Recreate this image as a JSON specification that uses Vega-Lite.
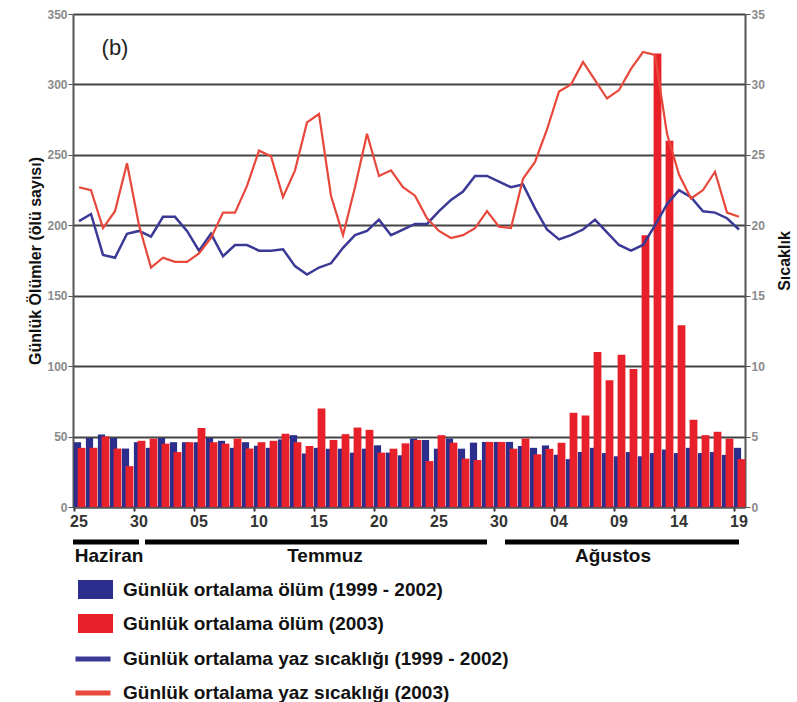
{
  "$schema": "https://vega.github.io/schema/vega-lite/v6.json",
  "background": "white",
  "padding": {"left": 27, "top": 8, "right": 2, "bottom": 0},
  "config": {
    "font": "Liberation Sans",
    "view": {"stroke": null}
  },
  "datasets": {
    "days": [
      {"date": "06-25", "bd": 46, "rd": 42, "bt": 20.3, "rt": 22.7},
      {"date": "06-26", "bd": 49, "rd": 42, "bt": 20.8, "rt": 22.5},
      {"date": "06-27", "bd": 51.5, "rd": 50, "bt": 17.9, "rt": 19.8},
      {"date": "06-28", "bd": 49, "rd": 41.5, "bt": 17.7, "rt": 21.0},
      {"date": "06-29", "bd": 41.5, "rd": 29, "bt": 19.4, "rt": 24.4},
      {"date": "06-30", "bd": 46, "rd": 47, "bt": 19.6, "rt": 20.0},
      {"date": "07-01", "bd": 42, "rd": 48.5, "bt": 19.2, "rt": 17.0},
      {"date": "07-02", "bd": 49, "rd": 45, "bt": 20.6, "rt": 17.7},
      {"date": "07-03", "bd": 46, "rd": 39, "bt": 20.6, "rt": 17.4},
      {"date": "07-04", "bd": 46, "rd": 46, "bt": 19.6, "rt": 17.4},
      {"date": "07-05", "bd": 46, "rd": 56, "bt": 18.2, "rt": 18.0},
      {"date": "07-06", "bd": 49, "rd": 46, "bt": 19.4, "rt": 19.1},
      {"date": "07-07", "bd": 47, "rd": 45, "bt": 17.8, "rt": 20.9},
      {"date": "07-08", "bd": 42, "rd": 48.5, "bt": 18.6, "rt": 20.9},
      {"date": "07-09", "bd": 46, "rd": 41.5, "bt": 18.6, "rt": 22.8},
      {"date": "07-10", "bd": 43.5, "rd": 46, "bt": 18.2, "rt": 25.3},
      {"date": "07-11", "bd": 42, "rd": 47, "bt": 18.2, "rt": 24.9},
      {"date": "07-12", "bd": 48, "rd": 52, "bt": 18.3, "rt": 22.0},
      {"date": "07-13", "bd": 51, "rd": 46, "bt": 17.1, "rt": 23.9},
      {"date": "07-14", "bd": 38, "rd": 43.3, "bt": 16.5, "rt": 27.3},
      {"date": "07-15", "bd": 42, "rd": 70, "bt": 17.0, "rt": 27.9},
      {"date": "07-16", "bd": 41.4, "rd": 47.6, "bt": 17.3, "rt": 22.1},
      {"date": "07-17", "bd": 41.4, "rd": 51.7, "bt": 18.4, "rt": 19.3},
      {"date": "07-18", "bd": 38.6, "rd": 56.4, "bt": 19.3, "rt": 22.7},
      {"date": "07-19", "bd": 41.4, "rd": 54.8, "bt": 19.6, "rt": 26.5},
      {"date": "07-20", "bd": 43.8, "rd": 38.6, "bt": 20.4, "rt": 23.5},
      {"date": "07-21", "bd": 38.6, "rd": 41.4, "bt": 19.3, "rt": 23.9},
      {"date": "07-22", "bd": 36.7, "rd": 45.2, "bt": 19.7, "rt": 22.7},
      {"date": "07-23", "bd": 48.6, "rd": 47.6, "bt": 20.1, "rt": 22.1},
      {"date": "07-24", "bd": 47.6, "rd": 32.6, "bt": 20.1, "rt": 20.5},
      {"date": "07-25", "bd": 41.4, "rd": 51, "bt": 21.0, "rt": 19.6},
      {"date": "07-26", "bd": 48.6, "rd": 45.7, "bt": 21.8, "rt": 19.1},
      {"date": "07-27", "bd": 41.4, "rd": 34.3, "bt": 22.4, "rt": 19.3},
      {"date": "07-28", "bd": 45.7, "rd": 33.3, "bt": 23.5, "rt": 19.8},
      {"date": "07-29", "bd": 46.2, "rd": 46.2, "bt": 23.5, "rt": 21.0},
      {"date": "07-30", "bd": 46.2, "rd": 46.2, "bt": 23.1, "rt": 19.9},
      {"date": "07-31", "bd": 46.2, "rd": 41.4, "bt": 22.7, "rt": 19.8},
      {"date": "08-01", "bd": 43.3, "rd": 48.6, "bt": 22.9, "rt": 23.3},
      {"date": "08-02", "bd": 42, "rd": 37.4, "bt": 21.2, "rt": 24.5},
      {"date": "08-03", "bd": 43.7, "rd": 41.3, "bt": 19.7, "rt": 26.8},
      {"date": "08-04", "bd": 37.1, "rd": 45.6, "bt": 19.0, "rt": 29.5},
      {"date": "08-05", "bd": 34, "rd": 67, "bt": 19.3, "rt": 30.0},
      {"date": "08-06", "bd": 39, "rd": 65, "bt": 19.7, "rt": 31.6},
      {"date": "08-07", "bd": 42, "rd": 110, "bt": 20.4, "rt": 30.3},
      {"date": "08-08", "bd": 38.3, "rd": 90, "bt": 19.5, "rt": 29.0},
      {"date": "08-09", "bd": 36, "rd": 108, "bt": 18.6, "rt": 29.6},
      {"date": "08-10", "bd": 39, "rd": 98, "bt": 18.2, "rt": 31.1},
      {"date": "08-11", "bd": 36, "rd": 193, "bt": 18.6, "rt": 32.3},
      {"date": "08-12", "bd": 38.3, "rd": 322, "bt": 20.0, "rt": 32.1},
      {"date": "08-13", "bd": 40.8, "rd": 260, "bt": 21.5, "rt": 26.5},
      {"date": "08-14", "bd": 38.3, "rd": 129, "bt": 22.5, "rt": 23.6},
      {"date": "08-15", "bd": 42, "rd": 62, "bt": 22.0, "rt": 21.9},
      {"date": "08-16", "bd": 38.3, "rd": 51, "bt": 21.0, "rt": 22.5},
      {"date": "08-17", "bd": 39, "rd": 53.4, "bt": 20.9, "rt": 23.8},
      {"date": "08-18", "bd": 37, "rd": 48.5, "bt": 20.5, "rt": 20.9},
      {"date": "08-19", "bd": 42, "rd": 34, "bt": 19.7, "rt": 20.6}
    ],
    "months": [
      {"month": "Haziran", "start": "06-25", "end": "06-30", "mid": "06-28"},
      {"month": "Temmuz", "start": "07-01", "end": "07-29", "mid": "07-16"},
      {"month": "Ağustos", "start": "07-31", "end": "08-19", "mid": "08-09"}
    ]
  },
  "spacing": 10,
  "resolve": {"scale": {"x": "shared", "y": "independent"}},
  "vconcat": [
    {
      "width": 672,
      "height": 493,
      "data": {"name": "days"},
      "encoding": {
        "x": {
          "field": "date",
          "type": "ordinal",
          "title": null,
          "scale": {"type": "band", "paddingInner": 0, "paddingOuter": 0},
          "axis": {
            "values": ["06-25", "06-30", "07-05", "07-10", "07-15", "07-20", "07-25", "07-30", "08-04", "08-09", "08-14", "08-19"],
            "labelExpr": "slice(datum.value, 3)",
            "labelAngle": 0,
            "labelFontSize": 16,
            "labelFontWeight": "bold",
            "labelColor": "#333",
            "labelPadding": 2,
            "tickColor": "#333",
            "tickSize": 4,
            "tickWidth": 2,
            "domainColor": "#555",
            "domainWidth": 2,
            "bandPosition": 0.1,
            "grid": false
          }
        }
      },
      "layer": [
        {
          "layer": [
            {
              "mark": {"type": "bar", "width": {"band": 0.6}, "xOffset": -1.5},
              "encoding": {
                "y": {
                  "field": "bd",
                  "type": "quantitative",
                  "title": "Günlük Ölümler (ölü sayısı)",
                  "scale": {"domain": [0, 350]},
                  "axis": {
                    "values": [0, 50, 100, 150, 200, 250, 300, 350],
                    "grid": true,
                    "gridColor": "#444",
                    "gridWidth": 1.8,
                    "labelColor": "#8a8a8a",
                    "labelFontSize": 12,
                    "labelFontWeight": "bold",
                    "labelPadding": 1,
                    "tickColor": "#555",
                    "tickSize": 5,
                    "domainColor": "#555",
                    "domainWidth": 2,
                    "titleFontSize": 16,
                    "titleFontWeight": "bold",
                    "titleColor": "#111",
                    "titlePadding": 3
                  }
                },
                "color": {
                  "datum": "Günlük ortalama ölüm (1999 - 2002)",
                  "scale": {
                    "domain": ["Günlük ortalama ölüm (1999 - 2002)", "Günlük ortalama ölüm (2003)"],
                    "range": ["#2b2e8c", "#e8202a"]
                  },
                  "legend": {
                    "orient": "none",
                    "legendX": 5,
                    "legendY": 558,
                    "direction": "vertical",
                    "title": null,
                    "padding": 0,
                    "symbolType": "M-1,-0.54H1V0.54H-1Z",
                    "symbolSize": 1225,
                    "symbolStrokeWidth": 0,
                    "labelFontSize": 19,
                    "labelFontWeight": "bold",
                    "labelColor": "#111",
                    "labelOffset": 10,
                    "labelLimit": 600,
                    "rowPadding": 6
                  }
                }
              }
            },
            {
              "mark": {"type": "bar", "width": {"band": 0.65}, "xOffset": 2.5},
              "encoding": {
                "y": {"field": "rd", "type": "quantitative", "title": "Günlük Ölümler (ölü sayısı)"},
                "color": {"datum": "Günlük ortalama ölüm (2003)"}
              }
            },
            {
              "data": {"values": [{"label": "(b)"}]},
              "mark": {"type": "text", "fontSize": 22, "color": "#222", "align": "center", "baseline": "middle"},
              "encoding": {
                "x": {"datum": "06-28"},
                "y": {"datum": 326, "type": "quantitative", "title": "Günlük Ölümler (ölü sayısı)"},
                "text": {"field": "label"}
              }
            }
          ]
        },
        {
          "layer": [
            {
              "mark": {"type": "line", "strokeWidth": 2.5},
              "encoding": {
                "y": {
                  "field": "bt",
                  "type": "quantitative",
                  "title": "Sıcaklık",
                  "scale": {"domain": [0, 35]},
                  "axis": {
                    "orient": "right",
                    "values": [0, 5, 10, 15, 20, 25, 30, 35],
                    "grid": false,
                    "labelColor": "#8a8a8a",
                    "labelFontSize": 12,
                    "labelFontWeight": "bold",
                    "labelPadding": 1,
                    "tickColor": "#555",
                    "tickSize": 5,
                    "domainColor": "#555",
                    "domainWidth": 2,
                    "titleFontSize": 16,
                    "titleFontWeight": "bold",
                    "titleColor": "#111",
                    "titleAngle": 270,
                    "titleBaseline": "top",
                    "titlePadding": 12
                  }
                },
                "stroke": {
                  "datum": "Günlük ortalama yaz sıcaklığı (1999 - 2002)",
                  "scale": {
                    "domain": ["Günlük ortalama yaz sıcaklığı (1999 - 2002)", "Günlük ortalama yaz sıcaklığı (2003)"],
                    "range": ["#3a3a96", "#e8473b"]
                  },
                  "legend": {
                    "orient": "none",
                    "legendX": 0,
                    "legendY": 625,
                    "direction": "vertical",
                    "title": null,
                    "padding": 0,
                    "symbolType": "stroke",
                    "symbolSize": 1225,
                    "symbolStrokeWidth": 5,
                    "labelFontSize": 19,
                    "labelFontWeight": "bold",
                    "labelColor": "#111",
                    "labelOffset": 10,
                    "labelLimit": 600,
                    "rowPadding": 4
                  }
                }
              }
            },
            {
              "mark": {"type": "line", "strokeWidth": 2.2},
              "encoding": {
                "y": {"field": "rt", "type": "quantitative", "title": "Sıcaklık"},
                "stroke": {"datum": "Günlük ortalama yaz sıcaklığı (2003)"}
              }
            }
          ]
        }
      ],
      "resolve": {"scale": {"y": "independent"}}
    },
    {
      "width": 672,
      "height": 14,
      "data": {"name": "months"},
      "layer": [
        {
          "mark": {"type": "rule", "strokeWidth": 5, "color": "#000"},
          "encoding": {
            "x": {"field": "start", "type": "ordinal", "bandPosition": 0, "axis": null},
            "x2": {"field": "end"},
            "y": {"datum": 1, "type": "quantitative", "scale": {"domain": [0, 1]}, "axis": null}
          }
        },
        {
          "mark": {"type": "text", "fontSize": 19, "fontWeight": "bold", "color": "#111", "align": "center", "baseline": "middle"},
          "encoding": {
            "x": {"field": "mid", "type": "ordinal", "bandPosition": 0, "axis": null},
            "y": {"datum": 0, "type": "quantitative", "axis": null},
            "text": {"field": "month"}
          }
        }
      ]
    }
  ]
}
